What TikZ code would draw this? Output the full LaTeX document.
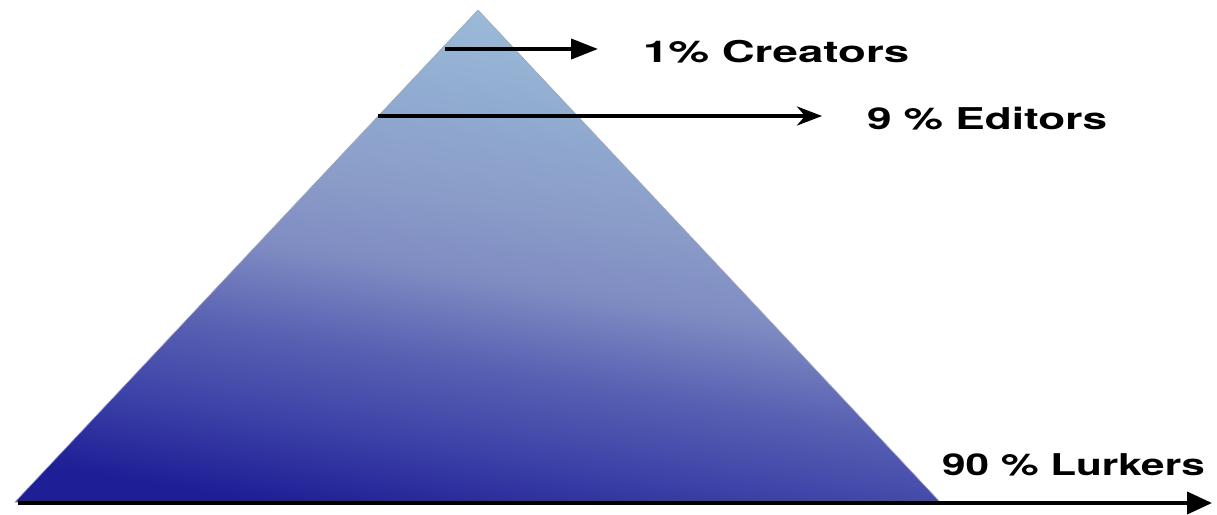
\documentclass[tikz,border=0pt]{standalone}
\usepackage{fontspec}
\usepackage{graphicx}
\setmainfont{TeX Gyre Heros}
\usetikzlibrary{arrows.meta}
\definecolor{s0}{HTML}{1A1A92}
\definecolor{s1}{HTML}{1E1E96}
\definecolor{s2}{HTML}{3E44A8}
\definecolor{s3}{HTML}{5860B2}
\definecolor{s4}{HTML}{7F8CC2}
\definecolor{s5}{HTML}{8A9CC8}
\definecolor{s6}{HTML}{90AAD0}
\definecolor{s7}{HTML}{9EC0DA}
\pgfdeclareverticalshading{pyr}{100bp}{color(0bp)=(s0); color(25bp)=(s1); color(33bp)=(s2); color(40bp)=(s3); color(48bp)=(s4); color(55bp)=(s5); color(63bp)=(s6); color(75bp)=(s7); color(100bp)=(s7)}
\tikzset{
  lbl/.style={anchor=base west, inner sep=0pt, font=\bfseries\fontsize{30}{36}\selectfont},
  arr/.style={line width=4pt, black},
}
\begin{document}
\begin{tikzpicture}[x=1pt,y=-1pt]
\useasboundingbox (0,0) rectangle (1217,514);
\fill[white] (0,0) rectangle (1217,514);
\coordinate (apex) at (478,10);
\coordinate (bl) at (15,502);
\coordinate (br) at (940,502);
\shade[shading=pyr, shading angle=-9, draw=black!35, line width=0.6pt] (apex) -- (br) -- (bl) -- cycle;
% labels
\node[lbl] (creators) at (643,62) {\scalebox{1.52}[1]{1\% Creators}};
\node[lbl] (editors) at (867,129) {\scalebox{1.47}[1]{9 \% Editors}};
\node[lbl] (lurkers) at (942,475) {\scalebox{1.41}[1]{90 \% Lurkers}};
% arrows
\coordinate (c1s) at (445,49);
\coordinate (c1e) at (598,49);
\coordinate (c2s) at (378,116);
\coordinate (c2e) at (822,116);
\coordinate (c3s) at (18,503);
\coordinate (c3e) at (1212,503);
\draw[arr, -{Triangle[length=27pt,width=20pt]}] (c1s) -- (c1e);
\draw[arr, line width=3.5pt, -{Stealth[length=25pt,width=19pt,inset=8pt]}] (c2s) -- (c2e);
\draw[arr, -{Triangle[length=25pt,width=22pt]}] (c3s) -- (c3e);
\end{tikzpicture}
\end{document}
